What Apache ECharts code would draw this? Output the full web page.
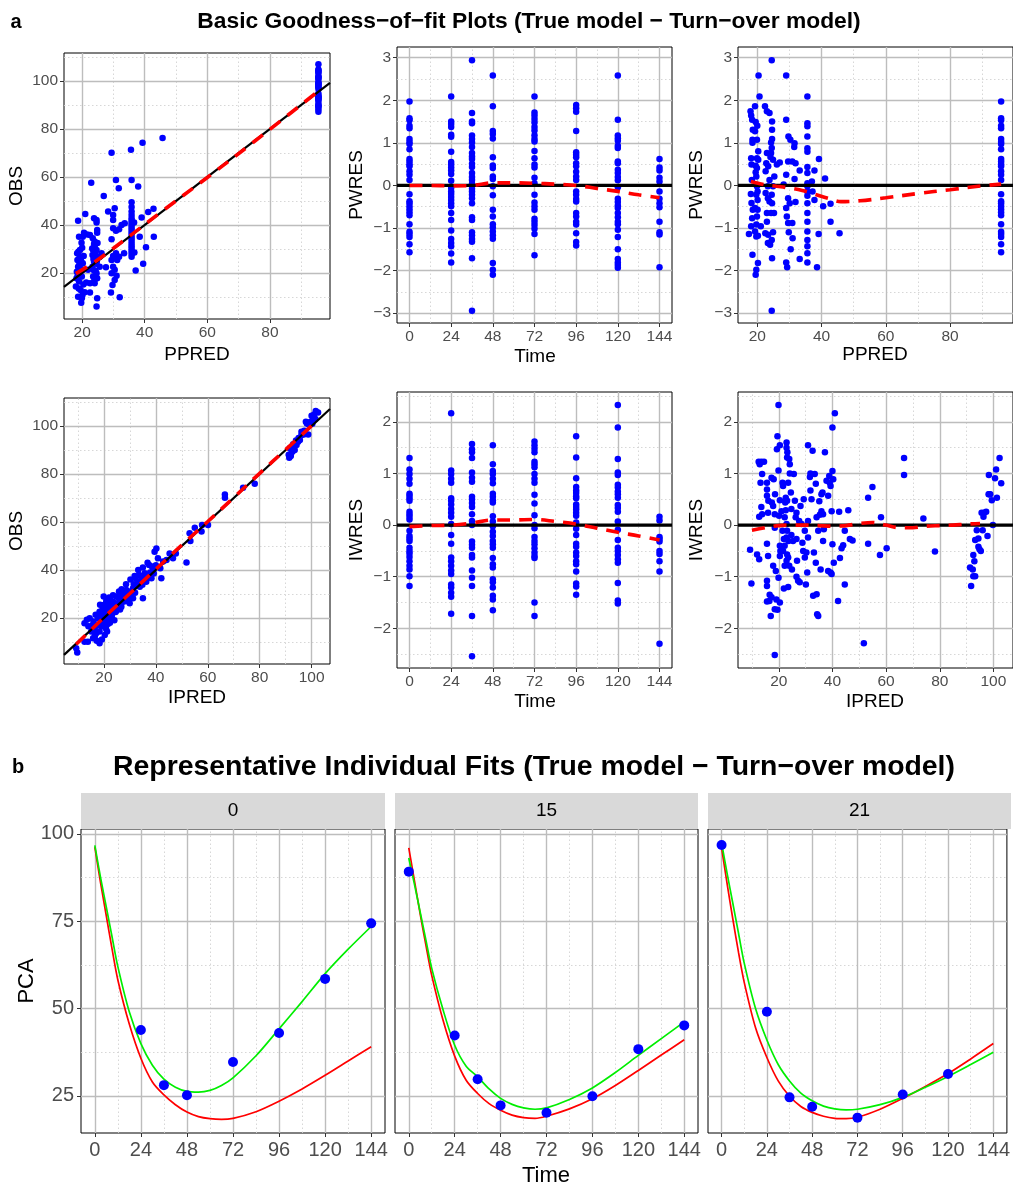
<!DOCTYPE html>
<html><head><meta charset="utf-8">
<script src="https://cdn.jsdelivr.net/npm/echarts@6/dist/echarts.min.js"></script>
<style>html,body{margin:0;padding:0;background:#fff}#c{width:1013px;height:1185px}</style>
</head><body><div id="c"></div>
<script>
// ---------------- DATA ----------------
const timeCols = [0, 24, 36, 48, 72, 96, 120, 144];
const timeTicks = [0, 24, 48, 72, 96, 120, 144];
const timeMinor = [12, 36, 60, 84, 108, 132];

const pwresCols = [
  [1.97,1.58,1.53,1.40,1.34,1.09,1.02,0.97,0.85,0.62,0.56,0.5,0.45,0.33,0.25,0.13,-0.21,-0.37,-0.42,-0.49,-0.56,-0.63,-0.70,-0.91,-1.09,-1.14,-1.21,-1.38,-1.57],
  [2.09,1.50,1.44,1.37,1.19,1.14,0.79,0.55,0.49,0.42,0.35,0.27,0.11,-0.06,-0.14,-0.20,-0.27,-0.34,-0.42,-0.49,-0.65,-0.81,-1.06,-1.26,-1.35,-1.43,-1.6,-1.81],
  [2.94,1.70,1.50,1.46,1.17,1.09,1.01,0.9,0.76,0.68,0.62,0.51,0.43,0.29,0.2,0.13,0.04,-0.08,-0.14,-0.22,-0.3,-0.42,-0.75,-0.81,-1.1,-1.17,-1.26,-1.32,-1.71,-2.94],
  [2.58,1.86,1.28,1.21,1.1,0.66,0.47,0.41,0.21,0.15,-0.02,-0.23,-0.57,-0.73,-0.91,-0.99,-1.08,-1.17,-1.25,-1.82,-1.98,-2.1],
  [2.09,1.71,1.64,1.56,1.48,1.37,1.29,1.18,1.09,1.03,0.81,0.64,0.49,0.42,0.18,0.05,-0.22,-0.4,-0.49,-0.57,-0.78,-0.85,-0.93,-1.02,-1.14,-1.64],
  [1.89,1.81,1.73,1.28,0.78,0.72,0.66,0.52,0.45,0.32,0.21,0.13,-0.14,-0.22,-0.32,-0.38,-0.65,-0.73,-0.85,-0.92,-1.12,-1.33,-1.41],
  [2.58,1.54,1.17,1.11,1.05,0.93,0.88,0.56,0.52,0.37,0.29,0.2,0.12,-0.04,-0.31,-0.39,-0.47,-0.53,-0.65,-0.75,-0.85,-0.91,-1.04,-1.21,-1.5,-1.73,-1.81,-1.87,-1.93],
  [0.62,0.42,0.35,0.18,0.09,-0.14,-0.31,-0.42,-0.51,-0.85,-1.1,-1.15,-1.92]
];
const iwresCols = [
  [1.30,1.08,0.99,0.90,0.80,0.61,0.57,0.52,0.47,0.26,0.21,0.16,0.11,-0.11,-0.21,-0.26,-0.31,-0.44,-0.5,-0.55,-0.62,-0.7,-0.79,-0.86,-0.99,-1.18],
  [2.17,1.06,0.99,0.90,0.82,0.52,0.47,0.40,0.31,0.24,0.16,0.02,-0.19,-0.36,-0.63,-0.7,-0.79,-0.88,-0.95,-1.15,-1.21,-1.31,-1.39,-1.72],
  [1.57,1.47,1.41,1.30,1.02,0.92,0.84,0.55,0.5,0.43,0.35,0.21,0.08,0.0,-0.32,-0.38,-0.44,-0.58,-0.63,-0.88,-1.02,-1.18,-1.76,-2.54],
  [1.55,1.18,1.05,0.99,0.90,0.81,0.61,0.55,0.48,0.44,0.17,0.07,-0.02,-0.13,-0.21,-0.31,-0.37,-0.44,-0.64,-0.76,-0.82,-1.05,-1.11,-1.21,-1.37,-1.44,-1.65],
  [1.62,1.55,1.48,1.41,1.23,1.18,1.12,0.99,0.90,0.82,0.59,0.42,0.19,0.0,-0.06,-0.23,-0.31,-0.37,-0.45,-0.53,-0.6,-0.64,-1.5,-1.76],
  [1.72,1.31,0.91,0.74,0.67,0.62,0.56,0.52,0.40,0.35,0.30,0.24,0.18,0.05,-0.07,-0.19,-0.36,-0.42,-0.53,-0.6,-0.7,-0.76,-0.9,-1.13,-1.19,-1.35],
  [2.33,1.89,1.28,1.02,0.97,0.78,0.73,0.65,0.6,0.53,0.39,0.33,0.26,0.07,-0.09,-0.29,-0.44,-0.5,-0.58,-0.66,-0.73,-1.12,-1.46,-1.52],
  [0.16,0.09,-0.23,-0.27,-0.32,-0.5,-0.56,-0.7,-0.9,-2.3]
];

// OBS vs PPRED (PPRED, OBS)
const baselinePpred = 95.5;
const baselineObs = [107,104.8,104.5,103.8,103.5,102.1,101.7,101.4,100.8,99.5,99.1,98.8,98.5,97.8,97.4,96.7,94.8,93.9,93.6,93.2,92.8,92.4,92.0,90.9,89.9,89.6,89.2,88.3,87.2];
const obsPpred = [
  [18.7,41.8],[18.4,28.2],[18.8,28.8],[19.3,29.6],[18.5,25.4],[18.7,22.6],[19.3,19.9],[18.2,17.8],[18.0,14.3],[18.7,10.1],[19.7,7.6],[20.1,10.8],[19.5,12.9],[19.0,16.4],[19.9,18.5],[20.3,21.3],[19.7,24.7],[20.5,27.1],[19.0,35.1],[20.2,35.1],[19.8,32.6],[21.0,44.6],[20.6,36.8],[21.6,36.0],[22.5,35.8],[18.3,20.5],[19.1,23.5],[19.6,26.0],[20.0,30.5],[18.9,13.5],[19.4,21.8],[20.4,15.2],[18.6,18.9],[19.2,27.0],[20.2,24.0],[21.3,16.0],[20.8,12.0],[19.9,9.5],
  [22.9,57.6],[23.8,42.8],[24.6,42.1],[24.6,41.0],[24.8,37.9],[24.8,36.8],[24.0,33.1],[23.8,32.1],[24.0,31.0],[23.5,29.6],[24.6,29.6],[23.3,27.5],[24.4,26.8],[23.8,24.7],[24.6,23.8],[23.3,22.6],[23.8,21.0],[24.6,19.9],[23.5,18.5],[24.8,17.8],[24.0,15.7],[22.5,15.7],[22.5,11.9],[24.8,9.4],[24.6,6.0],[21.9,21.3],[25.6,22.6],[25.6,26.8],[26.2,28.2],[24.2,28.5],[23.6,25.8],[24.9,32.5],[23.4,34.5],[24.3,20.8],[23.9,17.0],[24.7,25.0],[23.2,30.2],
  [26.9,52.1],[28.3,45.6],[27.6,22.4],[29.4,70.1],[29.9,44.2],[30.4,47.0],[30.8,58.8],[29.9,42.1],[29.4,34.0],[29.9,38.6],[30.8,37.6],[31.8,38.2],[32.6,40.0],[31.7,55.3],[33.6,40.7],[33.4,28.2],[30.8,28.2],[29.9,27.1],[29.4,25.4],[29.9,22.6],[30.4,21.3],[29.4,19.9],[31.0,18.8],[30.4,17.1],[31.2,25.4],[31.8,26.8],[29.7,15.0],[29.2,11.8],[32.0,9.9],
  [35.8,49.5],[35.8,47.5],[35.8,45.6],[35.8,44.2],[35.8,42.8],[35.8,41.8],[35.8,40.7],[35.8,39.7],[35.8,38.6],[35.8,37.6],[35.8,36.5],[35.8,35.4],[35.8,34.4],[35.8,33.3],[35.8,32.2],[35.8,31.1],[35.8,30.1],[35.8,29.0],[35.8,27.9],[35.8,26.8],[35.8,58.8],[35.6,71.4],
  [39.3,74.3],[45.7,76.3],[36.6,41.0],[36.7,28.5],[37.1,21.0],[38.4,35.1],[37.9,56.0],[39.0,43.1],[40.4,30.7],[41.1,45.4],[42.8,46.8],[42.9,35.1],[39.5,23.8]
];
// PWRES vs PPRED (PPRED, PWRES), low/mid PPRED range
const pwresPpred = [
  [17.4,-1.14],[17.9,1.74],[18.1,1.64],[18.4,1.54],[18.6,1.31],[18.5,1.07],[18.5,1.0],[18.1,0.64],[18.2,0.49],[18.3,0.13],[18.0,-0.2],[18.2,-0.41],[18.6,-0.57],[18.4,-0.77],[18.1,-0.96],[18.5,-1.63],[19.3,1.86],[19.7,-1.98],[19.5,-2.1],[19.5,1.49],[19.3,1.27],[19.9,1.07],[19.9,0.64],[19.5,0.46],[19.9,0.41],[19.5,0.31],[19.7,0.21],[19.9,-0.02],[19.7,-0.22],[19.3,-0.53],[19.9,-0.73],[19.7,-0.92],[19.3,-1.08],[19.7,-1.2],[20.2,-1.18],[20.4,2.58],[20.7,2.09],[20.0,1.4],[20.3,0.8],[20.3,0.6],[20.1,-0.14],[20.1,-0.34],[20.1,-0.57],[20.2,-1.82],[21.1,-0.96],
  [22.4,1.86],[23.0,1.74],[23.8,1.7],[24.5,2.94],[24.5,-2.94],[24.6,1.5],[24.6,1.31],[24.6,1.09],[24.3,1.01],[24.5,0.88],[24.3,0.76],[23.0,0.76],[22.8,0.52],[23.4,0.45],[22.6,0.33],[24.1,0.67],[24.9,0.6],[25.3,0.21],[23.8,0.13],[22.6,-0.18],[23.3,-0.3],[23.8,-0.38],[24.6,-0.42],[24.5,-0.22],[23.0,-0.65],[24.3,-0.65],[25.2,-0.65],[23.0,-0.85],[22.5,-1.12],[23.4,-1.16],[23.3,-1.35],[24.0,-1.39],[24.5,-1.28],[24.9,-1.1],[24.6,-1.71],[23.3,-0.02],[24.9,-0.02],
  [26.1,0.49],[27.0,0.54],
  [29.0,2.58],[29.0,1.54],[29.7,1.15],[30.3,1.07],[31.6,0.99],[31.5,0.9],[29.6,0.56],[30.9,0.56],[31.9,0.52],[29.0,0.25],[31.6,0.15],[28.2,0.02],[29.6,-0.3],[29.0,-0.53],[30.1,-0.42],[31.9,-0.39],[29.2,-0.73],[29.6,-0.88],[30.9,-0.88],[29.8,-1.1],[31.0,-1.24],[30.4,-1.5],[29.0,-1.81],[29.3,-1.92],[33.2,-1.73],[33.2,0.35],
  [35.6,2.09],[35.6,1.46],[35.6,1.39],[35.6,1.15],[35.6,0.87],[35.6,0.79],[35.6,0.43],[35.6,0.29],[35.6,0.05],[35.6,-0.02],[35.6,-0.14],[35.6,-0.24],[35.6,-0.42],[35.6,-0.65],[35.6,-0.85],[35.6,-1.08],[35.6,-1.28],[35.6,-1.43],[35.6,-1.59],[35.6,-1.81],
  [37.0,0.09],[37.2,-0.14],[37.8,-0.34],[37.8,0.35],[39.2,0.62],[39.1,-1.14],[38.6,-1.92],[40.5,-0.49],[41.1,0.16],[42.8,-0.43],[42.8,-0.85],[45.6,-1.12]
];
const baselinePpredRes = 95.9;

// OBS vs IPRED (IPRED, OBS)
const obsIpred = [
  [9.3,7.4],[9.7,5.6],[12.5,17.8],[13.4,19.2],[14.5,19.9],[15.1,14.3],[15.8,11.5],[13.8,10.1],[12.5,10.1],[16.4,15.7],[17.0,13.6],[18.3,9.4],[18.3,14.3],[19.0,16.4],[19.6,18.2],[19.0,21.3],[18.3,22.6],[17.7,19.9],[16.8,21.3],[19.9,25.4],[19.9,28.9],[20.9,26.8],[20.9,24.0],[21.5,20.6],[20.6,17.1],[21.2,14.3],[20.3,12.9],[22.2,19.9],[23.2,21.9],[24.1,24.0],[23.5,26.8],[24.8,28.9],[25.4,25.4],[26.0,27.5],[26.7,24.7],[27.3,28.2],[28.0,29.6],[28.6,31.7],[29.3,27.5],[29.9,26.1],[30.5,30.3],[31.2,32.4],[31.2,28.2],[32.5,33.8],[32.2,36.5],[33.5,37.9],[34.4,35.4],[35.0,28.2],[34.8,33.8],[35.7,38.6],[36.3,35.1],[37.4,42.1],[38.3,36.5],[38.9,40.0],[39.5,47.6],[40.2,49.0],[40.8,44.9],[41.7,40.7],[42.1,36.5],[42.8,43.5],[44.1,44.2],[45.3,46.9],[46.6,44.9],[47.7,46.9],[51.8,43.1],[53.0,55.3],[53.3,52.1],[55.0,57.6],[57.6,56.0],[57.8,58.8],[60.1,58.8],[66.6,71.5],[66.6,70.1],[73.6,74.3],[78.1,76.0],
  [14.0,16.5],[15.5,17.0],[16.0,18.5],[17.5,17.0],[18.0,20.0],[18.8,18.0],[19.5,20.5],[20.0,22.0],[20.5,19.5],[21.0,23.0],[21.8,22.5],[22.0,25.0],[22.5,27.5],[22.8,23.5],[23.0,20.5],[23.8,25.5],[24.5,22.5],[25.0,26.0],[25.5,28.5],[26.2,25.0],[26.5,29.0],[27.0,26.5],[27.5,30.5],[28.2,27.0],[28.8,29.0],[29.5,31.0],[30.0,29.5],[30.8,31.0],[31.5,34.0],[32.0,30.5],[33.0,35.0],[33.8,33.0],[34.2,37.5],[35.5,36.5],[36.0,38.0],[37.0,37.0],[37.8,39.0],[38.5,41.5],[39.2,38.5],[40.0,42.0],[16.5,12.5],[17.2,10.5],[19.2,11.0],[20.8,15.5],[21.5,17.5],[22.3,18.0],[24.0,19.0],[19.5,24.0],[18.5,25.5],[21.0,27.5],[22.0,28.5],[23.5,29.5],[25.8,31.0],[26.8,32.0],[28.5,34.0],[30.2,36.0],[31.8,37.5],[33.2,40.0],[35.0,41.0],[36.8,43.0],[20.2,23.0],[24.7,23.0],[26.2,23.5],
  [91.4,86.8],[91.9,88.2],[92.6,89.3],[93.5,90.0],[92.9,92.4],[94.8,93.5],[95.5,94.2],[96.1,96.3],[97.2,98.0],[97.8,101.8],[98.7,96.5],[100.0,104.3],[100.6,103.2],[101.6,106.3],[102.5,105.7],[99.6,101.8],[101.5,102.9],[96.1,97.6],[94.2,92.1],[91.6,90.7],[98.2,101.1],[92.0,87.5],[93.0,91.0],[95.0,95.0],[97.0,96.5],[99.0,100.5],[100.3,101.0],[101.0,104.8],[91.2,88.0],[94.0,94.0]
];
// IWRES vs IPRED (IPRED, IWRES)
const iwresIpred = [
  [9.3,-0.48],[9.8,-1.13],[12.5,1.23],[13.5,1.23],[14.5,1.23],[12.9,1.18],[13.8,0.99],[13.2,0.82],[13.5,0.35],[12.7,0.16],[13.8,0.21],[11.9,-0.57],[12.7,-0.66],[15.6,0.82],[15.6,0.69],[15.6,0.57],[16.1,0.47],[16.0,0.24],[15.6,-0.36],[16.0,-0.6],[15.6,-1.08],[15.6,-1.18],[15.6,-1.48],[16.6,-1.35],[17.3,-1.4],[17.0,-1.76],[16.5,-1.47],[17.9,-0.79],[17.3,0.92],[18.1,0.89],[17.4,0.44],[17.9,0.37],[18.5,0.21],[19.5,1.72],[19.3,1.47],[18.6,0.6],[18.5,-0.05],[18.9,-0.89],[19.1,-1.44],[18.5,-1.63],[19.5,-1.64],[18.5,-2.52],[19.9,2.33],[20.4,1.55],[19.9,1.06],[20.4,0.48],[20.1,0.18],[20.4,-0.4],[20.6,-0.5],[20.4,-0.6],[19.9,-1.02],[20.4,-1.5],[21.4,0.82],[21.6,0.76],[21.0,0.27],[21.4,-0.11],[21.9,-0.27],[21.6,-0.5],[22.2,-0.79],[21.9,-1.23],[22.4,0.44],[22.9,1.6],[22.9,1.5],[23.2,1.41],[23.1,1.31],[23.9,1.28],[24.1,1.18],[23.5,0.82],[22.6,0.53],[23.1,0.47],[22.6,0.29],[22.2,0.15],[22.9,0.02],[23.1,-0.11],[22.9,-0.24],[23.6,-0.31],[22.2,-0.4],[23.1,-0.57],[23.5,-0.63],[22.9,-0.69],[23.9,-0.79],[23.5,-1.2],[24.1,1.0],[24.5,0.63],[24.7,0.31],[24.7,-0.19],[25.3,-0.31],[24.9,-0.86],[25.6,0.99],[26.0,0.47],[26.6,0.24],[26.3,0.15],[26.6,-0.27],[26.8,-0.69],[26.6,-1.0],[27.2,-1.08],[27.8,-1.11],[28.1,0.37],[27.6,0.08],[28.5,0.02],[28.8,-0.34],[29.1,-0.5],[29.3,0.5],[29.7,-0.11],[29.7,-0.63],[30.1,-1.15],[30.6,-0.92],[30.3,-0.53],[30.9,1.55],[31.6,0.93],[31.8,1.0],[30.9,0.08],[30.9,-0.24],[31.8,0.67],[32.2,0.5],[32.6,1.44],[32.8,-1.37],[33.1,-0.53],[33.4,0.99],[33.8,0.8],[33.8,-0.73],[34.1,-1.34],[34.3,-1.73],[34.7,-1.76],[34.1,0.15],[34.7,-0.11],[35.1,0.46],[35.3,0.2],[35.9,0.6],[35.9,0.27],[36.3,0.63],[36.5,0.21],[36.5,-0.31],[36.8,-0.08],[35.6,-0.86],[37.2,1.41],[37.8,0.86],[38.4,0.57],[38.4,-0.89],[39.0,0.82],[39.3,-0.92],[39.7,-0.95],[38.8,0.95],[39.3,0.76],[40.0,1.05],[40.0,1.89],[40.9,2.17],[40.3,0.89],[39.7,0.27],[40.0,-0.37],[40.5,-0.73],[42.1,-1.47],[42.5,0.26],[42.8,-0.64],[43.4,-0.45],[44.0,-0.39],[44.6,-0.11],[44.6,-1.15],[45.9,0.29],[46.5,-0.27],[47.5,-0.3],[51.7,-2.29],[53.3,0.53],[53.3,-0.36],[54.9,0.74],[57.7,-0.58],[58.1,0.15],[60.2,-0.45],[66.7,1.3],[66.7,0.97],[73.9,0.13],[78.2,-0.51],
  [91.3,-0.82],[91.7,-1.18],[92.3,-0.86],[92.5,-0.58],[92.5,-0.99],[93.2,-0.99],[92.9,-0.7],[93.2,-0.29],[93.8,-0.1],[94.4,-0.26],[94.4,-0.42],[94.8,-0.47],[95.3,-0.5],[95.6,0.24],[96.0,-0.1],[96.3,0.16],[96.5,0.24],[97.3,0.26],[97.8,-0.21],[98.2,0.6],[98.5,0.6],[98.3,0.97],[98.8,0.6],[99.4,0.48],[99.8,0.0],[100.6,0.91],[101.0,1.08],[101.3,0.53],[102.3,1.3],[102.9,0.81]
];

// smoothers (red dashed)
const loessObsPpred = [[18,19.7],[24,24.6],[30,30.3],[36,36.2],[45,45.2],[60,59.8],[75,74.8],[95.5,95.8]];
const loessPwresTime = [[0,0.0],[12,0.0],[24,-0.01],[36,0.0],[48,0.06],[60,0.06],[72,0.05],[84,0.03],[96,0.0],[108,-0.07],[120,-0.14],[132,-0.22],[144,-0.29]];
const loessPwresPpred = [[18,0.09],[22,0.02],[26,-0.02],[30,-0.06],[34,-0.12],[38,-0.21],[42,-0.3],[46,-0.38],[52,-0.36],[60,-0.29],[70,-0.19],[80,-0.1],[90,-0.01],[95.9,0.03]];
const loessObsIpred = [[9.3,9.0],[20,20.2],[30,30.2],[40,40.3],[50,50.4],[60,60.2],[70,70.2],[80,80.3],[90,90.2],[102.5,102.6]];
const loessIwresTime = [[0,-0.03],[12,-0.01],[24,0.0],[36,0.04],[48,0.1],[60,0.1],[72,0.11],[84,0.07],[96,0.02],[108,-0.06],[120,-0.14],[132,-0.21],[144,-0.29]];
const loessIwresIpred = [[10,-0.1],[15,-0.05],[20,-0.01],[25,0.0],[30,0.0],[35,-0.01],[40,-0.02],[45,-0.01],[50,0.03],[55,0.05],[60,0.0],[65,-0.05],[70,-0.05],[75,-0.02],[80,-0.01],[85,0.0],[90,0.02],[95,0.03]];

// Individual fits
const facetIds = ['0', '15', '21'];
const fitTimes = [0,3,6,9,12,18,24,30,36,42,48,54,60,66,72,84,96,108,120,132,144];
const obsTimes = [0, 24, 36, 48, 72, 96, 120, 144];
const pcaObs = [
  [null, 43.9, 28.1, 25.2, 34.7, 43.0, 58.5, 74.4],
  [89.2, 42.3, 29.8, 22.3, 20.2, 24.9, 38.4, 45.2],
  [96.8, 49.1, 24.6, 21.9, 18.8, 25.4, 31.3, null]
];
const popPred = [
  [96.2,86,76.5,67,58.2,45.5,35.8,29,25.3,22.5,20.4,19.1,18.5,18.3,18.6,20.5,23.5,27,30.9,35,39.1],
  [96,86.5,77,68,59.5,46.5,36.4,29.5,25.7,22.8,20.9,19.5,18.8,18.6,19.2,21.3,24.2,28,32.3,36.7,41.1],
  [96,85.5,75.5,66,57.5,44.5,36,29.3,24.9,22,20.3,19.2,18.6,18.5,18.9,21.2,24.3,27.7,31.4,35.6,40]
];
const indPred = [
  [96.7,87.5,79,70.5,62,49,40,33.8,29.8,27.5,26.3,26.1,26.6,28,30.2,36.5,44.2,52,60,67,73.5],
  [93.1,85.5,77.5,69.5,61.5,49.5,39.5,33.5,30.5,27,24.3,22.6,21.6,21.2,21.6,24,27.3,31.7,36.6,41.4,46.2],
  [97.4,88.5,80,71.5,63,50,41,34,29.3,25.8,23.6,22.1,21.3,21,21.2,22.5,24.6,27.5,30.6,34,37.5]
];

// tick values
const obsTicks = [20,40,60,80,100], obsMinor = [10,30,50,70,90,110];
const ppredTicks = [20,40,60,80], ppredMinor = [30,50,70,90];
const ipredTicks = [20,40,60,80,100], ipredMinor = [10,30,50,70,90];
const pwresTicks = [-3,-2,-1,0,1,2,3], pwresMinor = [-2.5,-1.5,-0.5,0.5,1.5,2.5];
const iwresTicks = [-2,-1,0,1,2], iwresMinor = [-2.5,-1.5,-0.5,0.5,1.5,2.5];
const pcaTicks = [25,50,75,100], pcaMinor = [37.5,62.5,87.5];

// ---------------- CHART ----------------
const FONT = '"Liberation Sans", Arial, Helvetica, sans-serif';
const fmt = v => (v < 0 ? '\u2212' + Math.abs(v) : String(v));

const panels = [
  {rect:{left:64, top:53, width:266, height:266}, xr:[14.2,99.2], yr:[0.8,111.7], xt:ppredTicks, xm:ppredMinor, yt:obsTicks, ym:obsMinor},
  {rect:{left:397, top:47, width:275, height:276}, xr:[-7.2,151.2], yr:[-3.23,3.25], xt:timeTicks, xm:timeMinor, yt:pwresTicks, ym:pwresMinor},
  {rect:{left:738, top:47, width:276, height:276}, xr:[14.0,99.6], yr:[-3.23,3.25], xt:ppredTicks, xm:ppredMinor, yt:pwresTicks, ym:pwresMinor},
  {rect:{left:64, top:398, width:266, height:266}, xr:[4.6,107.1], yr:[0.8,111.7], xt:ipredTicks, xm:ipredMinor, yt:obsTicks, ym:obsMinor},
  {rect:{left:397, top:392, width:275, height:276}, xr:[-7.2,151.2], yr:[-2.77,2.58], xt:timeTicks, xm:timeMinor, yt:iwresTicks, ym:iwresMinor},
  {rect:{left:738, top:392, width:276, height:276}, xr:[4.8,107.3], yr:[-2.77,2.58], xt:ipredTicks, xm:ipredMinor, yt:iwresTicks, ym:iwresMinor},
  {rect:{left:81, top:829, width:304, height:304}, xr:[-7.2,151.2], yr:[14.4,101.4], xt:timeTicks, xm:timeMinor, yt:pcaTicks, ym:pcaMinor, big:true},
  {rect:{left:395, top:829, width:303, height:304}, xr:[-7.2,151.2], yr:[14.4,101.4], xt:timeTicks, xm:timeMinor, yt:pcaTicks, ym:pcaMinor, big:true, noY:true},
  {rect:{left:708, top:829, width:303, height:304}, xr:[-7.2,151.2], yr:[14.4,101.4], xt:timeTicks, xm:timeMinor, yt:pcaTicks, ym:pcaMinor, big:true, noY:true}
];

const grid = panels.map(p => Object.assign({show:true, borderColor:'#000', borderWidth:1, backgroundColor:'#fff', containLabel:false}, p.rect));

function mkAxis(gi, range, ticks, big, hideLabels) {
  return {
    type:'value', gridIndex:gi, min:range[0], max:range[1],
    axisLine:{show:false, onZero:false},
    axisTick:{show:!hideLabels, length:4, lineStyle:{color:'#333', width:1}, customValues:ticks},
    axisLabel:{show:!hideLabels, customValues:ticks, formatter:fmt, color:'#4d4d4d',
               fontSize: big ? 20 : 15.5, fontFamily:FONT, margin: big ? 7 : 6},
    splitLine:{show:false}, minorSplitLine:{show:false}
  };
}
const xAxis = panels.map((p,i) => mkAxis(i, p.xr, p.xt, p.big, false));
const yAxis = panels.map((p,i) => mkAxis(i, p.yr, p.yt, p.big, !!p.noY));

const series = [];
panels.forEach((p, i) => {
  const minors = [...p.xm.map(v => ({coords:[[v,p.yr[0]],[v,p.yr[1]]]})), ...p.ym.map(v => ({coords:[[p.xr[0],v],[p.xr[1],v]]}))];
  const majors = [...p.xt.map(v => ({coords:[[v,p.yr[0]],[v,p.yr[1]]]})), ...p.yt.map(v => ({coords:[[p.xr[0],v],[p.xr[1],v]]}))];
  series.push({type:'lines', coordinateSystem:'cartesian2d', xAxisIndex:i, yAxisIndex:i, silent:true, z:1,
    data:minors, lineStyle:{color:'#d2d2d2', width:0.9, type:[1.5,2.5], opacity:1, curveness:0}});
  series.push({type:'lines', coordinateSystem:'cartesian2d', xAxisIndex:i, yAxisIndex:i, silent:true, z:1,
    data:majors, lineStyle:{color:'#bdbdbd', width:1.4, type:'solid', opacity:1, curveness:0}});
});

function scatter(i, data, size) {
  return {type:'scatter', xAxisIndex:i, yAxisIndex:i, data, symbolSize:size || 6.5, z:3, silent:true,
          itemStyle:{color:'#0000ff', opacity:1}};
}
function refLine(i, data, w) {
  return {type:'line', xAxisIndex:i, yAxisIndex:i, data, showSymbol:false, z:4, silent:true,
          lineStyle:{color:'#000', width:w}};
}
function loess(i, data) {
  return {type:'line', xAxisIndex:i, yAxisIndex:i, data, showSymbol:false, smooth:0.35, z:5, silent:true,
          lineStyle:{color:'#ff0000', width:3.6, type:[13,9]}};
}

// panel 0: OBS vs PPRED
series.push(scatter(0, obsPpred.concat(baselineObs.map(v => [baselinePpred, v]))));
series.push(refLine(0, [[panels[0].xr[0], panels[0].xr[0]], [panels[0].xr[1], panels[0].xr[1]]], 2.2));
series.push(loess(0, loessObsPpred));
// panel 1: PWRES vs Time
series.push(scatter(1, timeCols.flatMap((t,k) => pwresCols[k].map(v => [t, v]))));
series.push(refLine(1, [[panels[1].xr[0],0],[panels[1].xr[1],0]], 3.2));
series.push(loess(1, loessPwresTime));
// panel 2: PWRES vs PPRED
series.push(scatter(2, pwresPpred.concat(pwresCols[0].map(v => [baselinePpredRes, v]))));
series.push(refLine(2, [[panels[2].xr[0],0],[panels[2].xr[1],0]], 3.2));
series.push(loess(2, loessPwresPpred));
// panel 3: OBS vs IPRED
series.push(scatter(3, obsIpred));
series.push(refLine(3, [[panels[3].xr[0], panels[3].xr[0]], [panels[3].xr[1], panels[3].xr[1]]], 2.2));
series.push(loess(3, loessObsIpred));
// panel 4: IWRES vs Time
series.push(scatter(4, timeCols.flatMap((t,k) => iwresCols[k].map(v => [t, v]))));
series.push(refLine(4, [[panels[4].xr[0],0],[panels[4].xr[1],0]], 3.2));
series.push(loess(4, loessIwresTime));
// panel 5: IWRES vs IPRED
series.push(scatter(5, iwresIpred));
series.push(refLine(5, [[panels[5].xr[0],0],[panels[5].xr[1],0]], 3.2));
series.push(loess(5, loessIwresIpred));
// facets
facetIds.forEach((id, k) => {
  const gi = 6 + k;
  series.push({type:'line', xAxisIndex:gi, yAxisIndex:gi, data: fitTimes.map((t,j) => [t, popPred[k][j]]),
    showSymbol:false, smooth:0.3, z:3, silent:true, lineStyle:{color:'#ff0000', width:1.7}});
  series.push({type:'line', xAxisIndex:gi, yAxisIndex:gi, data: fitTimes.map((t,j) => [t, indPred[k][j]]),
    showSymbol:false, smooth:0.3, z:3, silent:true, lineStyle:{color:'#00ee00', width:1.7}});
  series.push(Object.assign(scatter(gi, obsTimes.map((t,j) => [t, pcaObs[k][j]]).filter(d => d[1] !== null), 10), {z:4}));
});

function txt(text, x, y, size, opts) {
  opts = opts || {};
  return {type:'text', x, y, rotation: opts.rot || 0, silent:true, z:10,
    style:{text, x:0, y:0, textAlign:'center', textVerticalAlign:'middle', align:'center', verticalAlign:'middle',
           fill: opts.color || '#000', font: (opts.bold ? 'bold ' : '') + size + 'px ' + FONT}};
}
const R = Math.PI / 2;
const graphic = [
  txt('a', 16, 22, 20, {bold:true}),
  txt('Basic Goodness\u2212of\u2212fit Plots (True model \u2212 Turn\u2212over model)', 529, 22, 22.8, {bold:true}),
  txt('OBS', 17, 186, 19, {rot:R}), txt('PPRED', 197, 355, 19),
  txt('PWRES', 357, 185, 19, {rot:R}), txt('Time', 535, 357, 19),
  txt('PWRES', 697, 185, 19, {rot:R}), txt('PPRED', 875, 355, 19),
  txt('OBS', 17, 531, 19, {rot:R}), txt('IPRED', 197, 698, 19),
  txt('IWRES', 357, 530, 19, {rot:R}), txt('Time', 535, 702, 19),
  txt('IWRES', 697, 530, 19, {rot:R}), txt('IPRED', 875, 702, 19),
  txt('b', 18, 767, 20, {bold:true}),
  txt('Representative Individual Fits (True model \u2212 Turn\u2212over model)', 534, 767, 28.4, {bold:true}),
  txt('PCA', 27, 981, 22, {rot:R}),
  txt('Time', 546, 1176, 22)
];
facetIds.forEach((id, k) => {
  const r = panels[6 + k].rect;
  graphic.push({type:'rect', silent:true, z:9, shape:{x:r.left, y:793, width:r.width, height:36}, style:{fill:'#d9d9d9'}});
  graphic.push(txt(id, r.left + r.width / 2, 811, 19));
});

const chart = echarts.init(document.getElementById('c'), null, {renderer:'canvas'});
chart.setOption({animation:false, backgroundColor:'#fff', grid, xAxis, yAxis, series, graphic});
</script></body></html>
